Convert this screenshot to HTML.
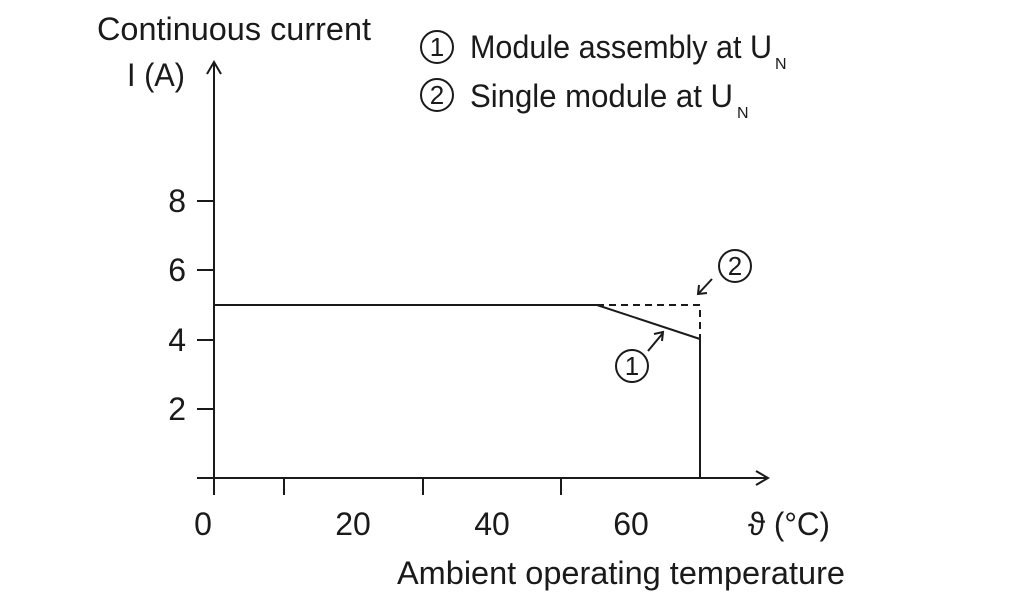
<!DOCTYPE html>
<html><head><style>body{margin:0;background:#fff}svg{display:block}</style></head><body>
<svg width="1024" height="607" viewBox="0 0 1024 607" xmlns="http://www.w3.org/2000/svg" font-family="'Liberation Sans Narrow','Liberation Sans',sans-serif" fill="#1a1a1a">
<g stroke="#1a1a1a" stroke-width="2" fill="none">
<line x1="214" y1="495" x2="214" y2="64"/>
<polyline points="207,74 214,62 221,74"/>
<line x1="197" y1="478" x2="768" y2="478"/>
<polyline points="756,471 768,478 756,485"/>
<line x1="197" y1="201" x2="214" y2="201"/>
<line x1="197" y1="270" x2="214" y2="270"/>
<line x1="197" y1="340" x2="214" y2="340"/>
<line x1="197" y1="409" x2="214" y2="409"/>
<line x1="284" y1="478" x2="284" y2="495"/>
<line x1="423" y1="478" x2="423" y2="495"/>
<line x1="561" y1="478" x2="561" y2="495"/>
<polyline points="214,305 597,305 700,339 700,478"/>
<polyline points="597,305 700,305 700,339" stroke-dasharray="7,5"/>
<line x1="712" y1="279" x2="699" y2="293"/>
<polyline points="699,285 698,294 707,293"/>
<line x1="648" y1="351" x2="663" y2="333"/>
<polyline points="654,334 663,332 662,341"/>
<circle cx="735" cy="266" r="16"/>
<circle cx="632" cy="366" r="16"/>
<circle cx="437" cy="47" r="16"/>
<circle cx="437" cy="95" r="16"/>
</g>
<g font-size="26" text-anchor="middle">
<text x="735" y="275">2</text><text x="632" y="375">1</text>
<text x="437" y="56">1</text><text x="437" y="104">2</text>
</g>
<g font-size="32">
<text x="97" y="40" textLength="274" lengthAdjust="spacingAndGlyphs">Continuous current</text>
<text x="127" y="86" textLength="58" lengthAdjust="spacingAndGlyphs">I (A)</text>
<text x="470" y="58" textLength="302" lengthAdjust="spacingAndGlyphs">Module assembly at U</text>
<text x="470" y="107" textLength="263" lengthAdjust="spacingAndGlyphs">Single module at U</text>
<text x="397" y="584" textLength="448" lengthAdjust="spacingAndGlyphs">Ambient operating temperature</text>
<text x="748" y="535" textLength="82" lengthAdjust="spacingAndGlyphs">ϑ (°C)</text>
</g>
<g font-size="16"><text x="775" y="69">N</text><text x="737" y="118">N</text></g>
<g font-size="32" text-anchor="end">
<text x="186" y="212">8</text><text x="186" y="281">6</text><text x="186" y="351">4</text><text x="186" y="420">2</text>
</g>
<g font-size="32" text-anchor="middle">
<text x="203" y="535">0</text><text x="353" y="535">20</text><text x="492" y="535">40</text><text x="631" y="535">60</text>
</g>
</svg>
</body></html>
